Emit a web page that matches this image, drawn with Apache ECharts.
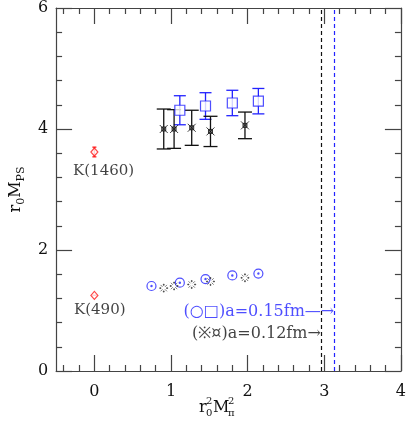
<!DOCTYPE html>
<html>
<head>
<meta charset="utf-8">
<script src="https://cdn.jsdelivr.net/npm/echarts@6/dist/echarts.min.js"></script>
<style>
  html, body { margin: 0; padding: 0; background: #fff; }
  #chart { width: 409px; height: 422px; }
</style>
</head>
<body>
<div id="chart"></div>
<script>
// experimental kaon masses at r0^2 M_pi^2 = 0
const kaonX = [0, 0];
const kaonY = [3.62, 1.25];
const kaonErr = [0.08, 0];
const kaonNames = ['K(1460)', 'K(490)'];

// a = 0.15 fm ensembles (blue)
const coarseGroundX = [0.745, 1.115, 1.45, 1.80, 2.14];
const coarseGroundY = [1.405, 1.46, 1.52, 1.58, 1.61];
const coarseExcitedX = [1.115, 1.45, 1.80, 2.14];
const coarseExcitedY = [4.31, 4.38, 4.43, 4.46];
const coarseExcitedErr = [0.24, 0.22, 0.21, 0.21];

// a = 0.12 fm ensembles (black)
const fineX = [0.905, 1.04, 1.27, 1.515, 1.965];
const fineGroundY = [1.37, 1.405, 1.43, 1.48, 1.54];
const fineExcitedY = [4.0, 4.0, 4.02, 3.96, 4.06];
const fineExcitedErr = [0.33, 0.32, 0.29, 0.25, 0.22];

// dashed vertical lines
const fineLineX = 2.955;
const coarseLineX = 3.13;

// ticks
const xMajorTicks = [0, 1, 2, 3, 4];
const xMinorTicks = [-0.4, -0.2, 0.2, 0.4, 0.6, 0.8, 1.2, 1.4, 1.6, 1.8, 2.2, 2.4, 2.6, 2.8, 3.2, 3.4, 3.6, 3.8];

const FONT = 'DejaVu Serif';
const BLUE = '#2222ff';
const RED = '#ff1a1a';
const BLACK = '#111';
const AXIS = '#444';

const chart = echarts.init(document.getElementById('chart'));

const errorBars = (xs, ys, es, color, cap) => ({
  type: 'custom',
  silent: true,
  z: 2,
  data: xs.map((x, i) => [x, ys[i], es[i]]),
  renderItem: (params, api) => {
    const x = api.value(0), y = api.value(1), e = api.value(2);
    const hi = api.coord([x, y + e]);
    const lo = api.coord([x, y - e]);
    const style = { stroke: color, lineWidth: 1.3, fill: null };
    return {
      type: 'group',
      children: [
        { type: 'line', shape: { x1: hi[0], y1: hi[1], x2: lo[0], y2: lo[1] }, style },
        { type: 'line', shape: { x1: hi[0] - cap, y1: hi[1], x2: hi[0] + cap, y2: hi[1] }, style },
        { type: 'line', shape: { x1: lo[0] - cap, y1: lo[1], x2: lo[0] + cap, y2: lo[1] }, style }
      ]
    };
  }
});

const pts = (xs, ys) => xs.map((x, i) => [x, ys[i]]);

const circleDot = 'path://M0,5A5,5 0 1,1 10,5A5,5 0 1,1 0,5ZM4.3,5A0.7,0.7 0 1,1 5.7,5A0.7,0.7 0 1,1 4.3,5Z';
const boxCross = 'path://M0,0L10,10M0,10L10,0M2.5,2.5H7.5V7.5H2.5Z';
const asterisk = 'path://M1,1L3.5,3.5M6.5,6.5L9,9M9,1L6.5,3.5M3.5,6.5L1,9M4.5,0H5.5V1.5H4.5ZM4.5,8.5H5.5V10H4.5ZM0,4.5H1.5V5.5H0ZM8.5,4.5H10V5.5H8.5Z';

const tickAxisX = (position, values, len, showLine) => ({
  type: 'value', min: -0.5, max: 4, position,
  axisLine: { show: showLine, onZero: false, lineStyle: { color: AXIS, width: 1.2 } },
  axisTick: { show: true, inside: true, length: len, customValues: values, lineStyle: { color: AXIS, width: 1.2 } },
  axisLabel: { show: false },
  splitLine: { show: false }
});

const option = {
  animation: false,
  backgroundColor: '#fff',
  grid: { left: 38, right: 5, top: 5, bottom: 51 },
  xAxis: [
    {
      type: 'value', min: -0.5, max: 4, position: 'bottom',
      axisLine: { show: true, onZero: false, lineStyle: { color: AXIS, width: 1.2 } },
      axisTick: { show: true, inside: true, length: 16, customValues: xMajorTicks, lineStyle: { color: AXIS, width: 1.2 } },
      axisLabel: { customValues: xMajorTicks, margin: 13, fontSize: 16, fontFamily: FONT, color: '#111' },
      splitLine: { show: false }
    },
    tickAxisX('bottom', xMinorTicks, 6, false),
    tickAxisX('top', xMajorTicks, 16, true),
    tickAxisX('top', xMinorTicks, 6, false)
  ],
  yAxis: [
    {
      type: 'value', min: 0, max: 6, interval: 2, position: 'left',
      axisLine: { show: true, onZero: false, lineStyle: { color: AXIS, width: 1.2 } },
      axisTick: { show: true, inside: true, length: 16, lineStyle: { color: AXIS, width: 1.2 } },
      minorTick: { show: true, splitNumber: 5, length: 6, lineStyle: { color: AXIS, width: 1.2 } },
      axisLabel: { margin: 8, fontSize: 16, fontFamily: FONT, color: '#111' },
      splitLine: { show: false },
      name: '{a|r}{s|0}{a|M}{s|PS}',
      nameLocation: 'middle',
      nameGap: 27,
      nameRotate: 90,
      nameTextStyle: {
        rich: {
          a: { fontSize: 16, fontFamily: FONT, color: '#111', lineHeight: 22, verticalAlign: 'middle' },
          s: { fontSize: 11, fontFamily: FONT, color: '#111', lineHeight: 22, verticalAlign: 'bottom' }
        }
      }
    },
    {
      type: 'value', min: 0, max: 6, interval: 2, position: 'right',
      axisLine: { show: true, onZero: false, lineStyle: { color: AXIS, width: 1.2 } },
      axisTick: { show: true, inside: true, length: 16, lineStyle: { color: AXIS, width: 1.2 } },
      minorTick: { show: true, splitNumber: 5, length: 6, lineStyle: { color: AXIS, width: 1.2 } },
      axisLabel: { show: false },
      splitLine: { show: false }
    }
  ],
  series: [
    errorBars(kaonX, kaonY, kaonErr, RED, 2),
    errorBars(coarseExcitedX, coarseExcitedY, coarseExcitedErr, BLUE, 6),
    errorBars(fineX, fineExcitedY, fineExcitedErr, BLACK, 7),
    {
      name: 'kaon', type: 'scatter', z: 3,
      symbol: 'diamond', symbolSize: [7, 8],
      itemStyle: { color: '#fff', borderColor: RED, borderWidth: 1.2 },
      data: pts(kaonX, kaonY),
      markLine: {
        silent: true, symbol: 'none',
        label: { show: false },
        lineStyle: { type: [4, 3], width: 1.2 },
        data: [
          { xAxis: fineLineX, lineStyle: { color: BLACK } },
          { xAxis: coarseLineX, lineStyle: { color: BLUE } }
        ]
      }
    },
    {
      name: 'coarse excited', type: 'scatter', z: 3,
      symbol: 'rect', symbolSize: 10,
      itemStyle: { color: '#fff', borderColor: BLUE, borderWidth: 1.2 },
      data: pts(coarseExcitedX, coarseExcitedY)
    },
    {
      name: 'coarse ground', type: 'scatter', z: 3,
      symbol: circleDot, symbolSize: 9,
      itemStyle: { color: 'transparent', borderColor: BLUE, borderWidth: 1.2 },
      data: pts(coarseGroundX, coarseGroundY)
    },
    {
      name: 'fine excited', type: 'scatter', z: 3,
      symbol: boxCross, symbolSize: 8,
      itemStyle: { color: '#666', borderColor: BLACK, borderWidth: 1 },
      data: pts(fineX, fineExcitedY)
    },
    {
      name: 'fine ground', type: 'scatter', z: 3,
      symbol: asterisk, symbolSize: 8,
      itemStyle: { color: '#444', borderColor: '#333', borderWidth: 0.8 },
      data: pts(fineX, fineGroundY)
    },
    {
      name: 'labels', type: 'scatter', z: 4, silent: true,
      symbolSize: 0,
      data: [
        { value: [0.12, 3.3], name: kaonNames[0] },
        { value: [0.07, 1.0], name: kaonNames[1] }
      ],
      label: { show: true, position: 'inside', formatter: '{b}', fontSize: 15, fontFamily: FONT, color: '#111' }
    },
    {
      name: 'legend text', type: 'scatter', z: 4, silent: true,
      symbolSize: 0,
      data: [
        { value: [coarseLineX, 0.97], name: '(○□)a=0.15fm—→', label: { color: BLUE } },
        { value: [fineLineX, 0.62], name: '(※¤)a=0.12fm→', label: { color: BLACK } }
      ],
      label: { show: true, position: 'left', distance: 0, formatter: '{b}', fontSize: 16, fontFamily: FONT }
    }
  ],
  graphic: [
    {
      type: 'group', left: 199, top: 396,
      children: [
        { type: 'text', x: 0, y: 4, style: { text: 'r', font: '16px "DejaVu Serif"', fill: '#111' } },
        { type: 'text', x: 7, y: 0, style: { text: '2', font: '10px "DejaVu Serif"', fill: '#111' } },
        { type: 'text', x: 7, y: 12, style: { text: '0', font: '10px "DejaVu Serif"', fill: '#111' } },
        { type: 'text', x: 14, y: 4, style: { text: 'M', font: '16px "DejaVu Serif"', fill: '#111' } },
        { type: 'text', x: 29, y: 0, style: { text: '2', font: '10px "DejaVu Serif"', fill: '#111' } },
        { type: 'text', x: 29, y: 12, style: { text: 'π', font: '10px "DejaVu Serif"', fill: '#111' } }
      ]
    }
  ]
};

chart.setOption(option);
</script>
</body>
</html>
